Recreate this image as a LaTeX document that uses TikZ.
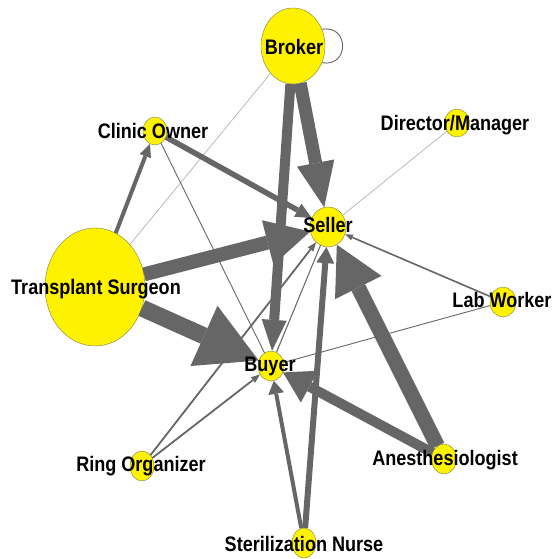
\documentclass[tikz,border=0pt]{standalone}
\usepackage{fontspec}
\newfontfamily\tagfont[FakeStretch=0.86]{Liberation Sans}
\usepackage{tikz}
\usetikzlibrary{arrows.meta}
\usetikzlibrary{shapes.geometric}
\definecolor{linkgray}{RGB}{102,102,102}
\definecolor{faintgray}{RGB}{178,178,178}
\definecolor{rimcolor}{RGB}{125,125,70}

\begin{document}
\begin{tikzpicture}[x=1pt,y=1pt,
    main node/.style={ellipse,fill=yellow,draw=rimcolor,line width=0.4pt,inner sep=0pt},
    tag/.style={font={\tagfont\bfseries\fontsize{21}{23}\selectfont},inner sep=0pt,anchor=base},
    link/.style n args={3}{draw=linkgray,line width=#1pt,-{Triangle[length=#2pt,width=#3pt,line width=0pt]}},
    thin link/.style={draw=linkgray,line width=0.9pt},
    faint link/.style={draw=faintgray,line width=0.7pt}]
\useasboundingbox (0,0) rectangle (553,559);

% actors
\node[main node,minimum width=64pt,minimum height=76pt] (broker) at (293,513) {};
\node[main node,minimum width=24pt,minimum height=28pt] (clinic) at (155,428) {};
\node[main node,minimum width=25pt,minimum height=28pt] (director) at (457,436) {};
\node[main node,minimum width=36pt,minimum height=40pt] (seller) at (328,332) {};
\node[main node,minimum width=100pt,minimum height=118pt] (surgeon) at (95,272) {};
\node[main node,minimum width=26pt,minimum height=30pt] (lab) at (503,257) {};
\node[main node,minimum width=26pt,minimum height=30pt] (buyer) at (271,193) {};
\node[main node,minimum width=24pt,minimum height=30pt] (ring) at (142,93) {};
\node[main node,minimum width=25pt,minimum height=30pt] (anest) at (444,100) {};
\node[main node,minimum width=24pt,minimum height=30pt] (nurse) at (304,16) {};

% weak ties
\path (broker) edge[faint link] (surgeon)
      (director) edge[faint link] (seller)
      (clinic) edge[thin link] (buyer)
      (lab) edge[thin link] (buyer)
      (buyer.70) edge[faint link] (seller.-112)
      (buyer) edge[thin link] (seller);
\draw[thin link] (broker.30) .. controls +(10:28) and +(-10:28) .. (broker.-30);

% referrals
\path (ring) edge[link={1.8}{9}{7}] (buyer)
      (ring) edge[link={1.8}{9}{7}] (seller)
      (lab) edge[link={1.6}{8}{6}] (seller)
      (nurse) edge[link={4}{13}{16}] (buyer)
      (nurse) edge[link={6}{16}{18}] (seller)
      (surgeon) edge[link={4}{13}{12}] (clinic)
      (clinic) edge[link={5.5}{16}{15}] (seller)
      (broker) edge[link={10}{31}{25}] (buyer)
      (broker) edge[link={13}{45}{38}] (seller)
      (anest) edge[link={10}{30}{36}] (buyer)
      (anest) edge[link={15}{48}{52}] (seller)
      (surgeon) edge[link={14}{44}{46}] (seller)
      (surgeon) edge[link={17}{60}{66}] (buyer);

% names
\node[tag] (brokerT) at (294,504) {Broker};
\node[tag] (clinicT) at (153,420) {Clinic Owner};
\node[tag] (directorT) at (455,428) {Director/Manager};
\node[tag] (sellerT) at (328,326) {Seller};
\node[tag] (surgeonT) at (96,264) {Transplant Surgeon};
\node[tag] (labT) at (502,251) {Lab Worker};
\node[tag] (buyerT) at (270,187.5) {Buyer};
\node[tag] (ringT) at (141,87) {Ring Organizer};
\node[tag] (anestT) at (445,93) {Anesthesiologist};
\node[tag] (nurseT) at (304,8) {Sterilization Nurse};
\end{tikzpicture}
\end{document}
